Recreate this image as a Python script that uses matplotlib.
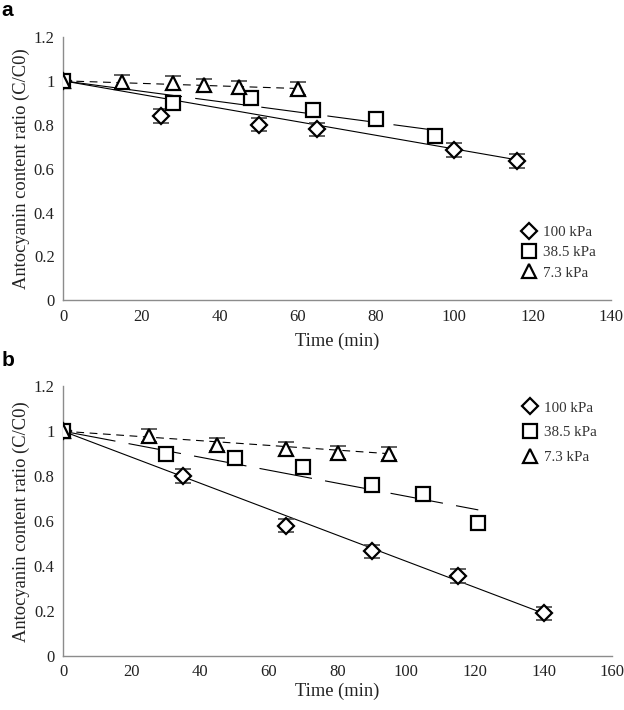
import matplotlib
matplotlib.use("Agg")
import matplotlib.pyplot as plt
from matplotlib.lines import Line2D

plt.rcParams["font.family"] = ["Liberation Serif", "DejaVu Serif"]

# Panel a data
labels = ["100 kPa", "38.5 kPa", "7.3 kPa"]
markers = ["D", "s", "^"]
marker_sizes = [8, 10, 10]
line_styles = ["-", (0, (48, 12)), (0, (7, 5))]

a_time_100 = [0, 25, 50, 65, 100, 116]
a_ratio_100 = [1.0, 0.84, 0.80, 0.78, 0.685, 0.635]
a_time_385 = [0, 28, 48, 64, 80, 95]
a_ratio_385 = [1.0, 0.90, 0.92, 0.865, 0.825, 0.75]
a_time_73 = [0, 15, 28, 36, 45, 60]
a_ratio_73 = [1.0, 0.995, 0.99, 0.98, 0.97, 0.965]
a_trend_end = [0.64, 0.775, 0.965]

# Panel b data
b_time_100 = [0, 35, 65, 90, 115, 140]
b_ratio_100 = [1.0, 0.80, 0.58, 0.465, 0.355, 0.19]
b_time_385 = [0, 30, 50, 70, 90, 105, 121]
b_ratio_385 = [1.0, 0.90, 0.88, 0.84, 0.76, 0.72, 0.59]
b_time_73 = [0, 25, 45, 65, 80, 95]
b_ratio_73 = [1.0, 0.98, 0.94, 0.92, 0.905, 0.90]
b_trend_end = [0.19, 0.65, 0.90]

err = 0.03

fig = plt.figure(figsize=(6.24, 7.10), dpi=100)
ax_a = fig.add_axes([0.101, 0.577, 0.878, 0.371])
ax_b = fig.add_axes([0.101, 0.076, 0.880, 0.380])


def draw_panel(ax, series, trend_end, xmax, legend_top, spacing, xpad):
    for i, (t, r) in enumerate(series):
        ax.plot([0, t[-1]], [1.0, trend_end[i]], color="black", lw=0.8,
                linestyle=line_styles[i], zorder=2)
        ax.errorbar(t, r, yerr=err, fmt="none", ecolor="#444444",
                    elinewidth=1.0, capsize=6, capthick=1.2, zorder=3)
        ax.plot(t, r, linestyle="none", marker=markers[i],
                markersize=marker_sizes[i], markerfacecolor="white",
                markeredgecolor="black", markeredgewidth=1.6, zorder=4)
    ax.set_xlim(0, xmax)
    ax.set_ylim(0, 1.2)
    ax.set_yticks([0, 0.2, 0.4, 0.6, 0.8, 1.0, 1.2])
    ax.set_yticklabels(["0", "0.2", "0.4", "0.6", "0.8", "1", "1.2"])
    ax.set_xticks(range(0, xmax + 1, 20))
    ax.tick_params(length=0, labelsize=12, pad=6, labelcolor="#222222")
    for s in ["top", "right"]:
        ax.spines[s].set_visible(False)
    for s in ["left", "bottom"]:
        ax.spines[s].set_color("#8c8c8c")
        ax.spines[s].set_linewidth(1.0)
    ax.set_xlabel("Time (min)", fontsize=13.3, labelpad=xpad, color="#222222")
    ax.set_ylabel("Antocyanin content ratio (C/C0)", fontsize=13.3,
                  labelpad=3, color="#222222")
    handles = [Line2D([], [], linestyle="none", marker=markers[i],
                      markersize=marker_sizes[i], markerfacecolor="white",
                      markeredgecolor="black", markeredgewidth=1.6)
               for i in range(3)]
    ax.legend(handles, labels, loc="upper left",
              bbox_to_anchor=(0.81, legend_top), frameon=False,
              fontsize=10.8, handletextpad=0.3, labelspacing=spacing,
              handlelength=1.2, labelcolor="#333333")


draw_panel(ax_a, [(a_time_100, a_ratio_100), (a_time_385, a_ratio_385),
                  (a_time_73, a_ratio_73)], a_trend_end, 140, 0.335, 0.45, 6)
draw_panel(ax_b, [(b_time_100, b_ratio_100), (b_time_385, b_ratio_385),
                  (b_time_73, b_ratio_73)], b_trend_end, 160, 0.995, 0.75, 2)

fig.text(0.002, 0.985, "a", fontsize=15, fontweight="bold",
         family="Liberation Sans", va="center")
fig.text(0.002, 0.492, "b", fontsize=15, fontweight="bold",
         family="Liberation Sans", va="center")

fig.savefig("out.png", dpi=100)
